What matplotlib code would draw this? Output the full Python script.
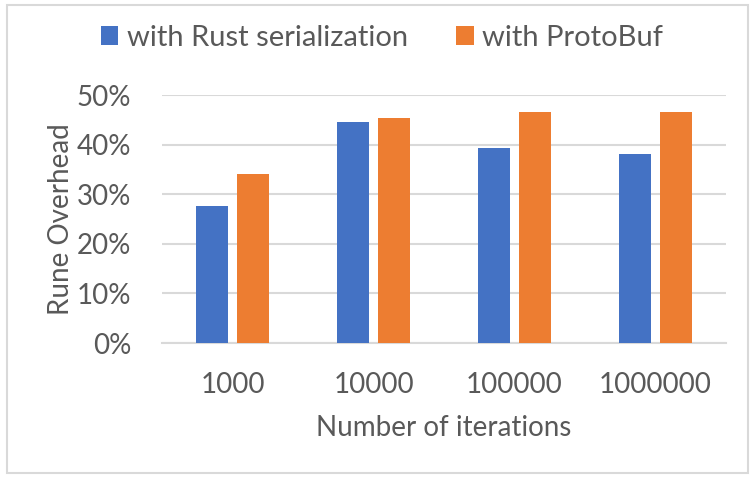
import matplotlib
matplotlib.use("Agg")
import matplotlib.pyplot as plt
import numpy as np
from matplotlib.patches import Rectangle
from matplotlib.ticker import FuncFormatter

categories = ["1000", "10000", "100000", "1000000"]
rust_serialization = [0.276, 0.446, 0.393, 0.381]
protobuf = [0.341, 0.454, 0.466, 0.466]
series_names = ["with Rust serialization", "with ProtoBuf"]
yticks = [0.0, 0.1, 0.2, 0.3, 0.4, 0.5]

plt.rcParams['font.family'] = ['Lato', 'DejaVu Sans']
txt = '#595959'
grid = '#d9d9d9'

fig = plt.figure(figsize=(7.52, 4.80), dpi=100)
ax = fig.add_axes([162/752, 1-343/480, (726-162)/752, (343-95)/480])

x = np.arange(len(categories))
w = 0.227
off = 0.145
b1 = ax.bar(x - off, rust_serialization, w, color='#4472C4', label=series_names[0], zorder=3)
b2 = ax.bar(x + off, protobuf, w, color='#ED7D31', label=series_names[1], zorder=3)

ax.set_xlim(-0.5, len(categories) - 0.5)
ax.set_ylim(0, 0.5)
ax.set_yticks(yticks)
ax.yaxis.set_major_formatter(FuncFormatter(lambda v, p: f"{v*100:.0f}%"))
ax.set_xticks(x)
ax.set_xticklabels(categories)
ax.grid(axis='y', color=grid, linewidth=1.5, zorder=0)
ax.set_axisbelow(True)
for s in ['top', 'right', 'left']:
    ax.spines[s].set_visible(False)
ax.spines['bottom'].set_color(grid)
ax.spines['bottom'].set_linewidth(1.5)
ax.tick_params(axis='both', length=0, labelsize=20, colors=txt)
ax.tick_params(axis='x', pad=21)
ax.tick_params(axis='y', pad=22)
ax.set_xlabel("Number of iterations", fontsize=20, color=txt, labelpad=12)
ax.set_ylabel("Rune Overhead", fontsize=20, color=txt, labelpad=2)

leg = fig.legend(handles=[b1, b2], labels=series_names, loc='center', bbox_to_anchor=(382/752, 1-38/480),
                 ncol=2, frameon=False, fontsize=21, labelcolor=txt, handlelength=0.6, handleheight=0.6,
                 handletextpad=0.3, columnspacing=1.65)

fig.patches.append(Rectangle((7/752, 1-473/480), (748-7)/752, (473-5)/480, transform=fig.transFigure,
                             fill=False, edgecolor=grid, linewidth=1.5))

fig.savefig("out.png", dpi=100)
